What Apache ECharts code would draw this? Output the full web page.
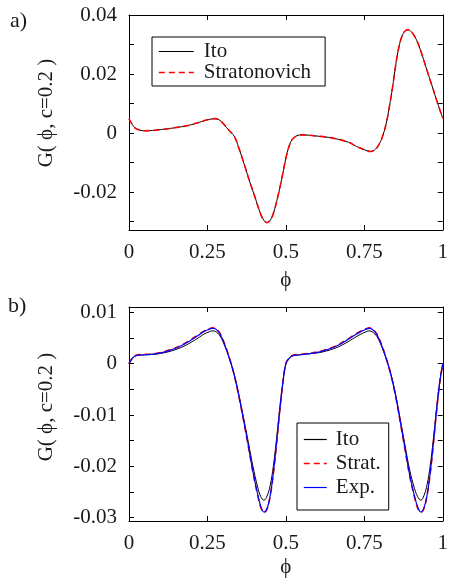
<!DOCTYPE html>
<html>
<head>
<meta charset="utf-8">
<script src="https://cdn.jsdelivr.net/npm/echarts@6/dist/echarts.min.js"></script>
<style>
html,body{margin:0;padding:0;background:#fff;}
#chart{width:451px;height:582px;}
</style>
</head>
<body>
<div id="chart"></div>
<script>
// ---------- Panel a data ----------
const phiA = [0, 0.01, 0.02, 0.035, 0.05, 0.075, 0.1, 0.125, 0.15, 0.175, 0.2, 0.225, 0.25, 0.265, 0.275, 0.29, 0.3, 0.31, 0.32, 0.335, 0.35, 0.37, 0.385, 0.4, 0.42, 0.43, 0.44, 0.45, 0.46, 0.475, 0.49, 0.5, 0.51, 0.52, 0.535, 0.55, 0.6, 0.65, 0.7, 0.725, 0.75, 0.77, 0.785, 0.8, 0.81, 0.82, 0.83, 0.84, 0.85, 0.86, 0.87, 0.88, 0.89, 0.9, 0.91, 0.92, 0.935, 0.95, 0.965, 0.98, 1.0];
const itoA = [0.0048, 0.0030, 0.0017, 0.0010, 0.0008, 0.0009, 0.0012, 0.0015, 0.0019, 0.0023, 0.0029, 0.0037, 0.0045, 0.0048, 0.0049, 0.0043, 0.0033, 0.0020, 0.0008, -0.0010, -0.0050, -0.0115, -0.0165, -0.0212, -0.0275, -0.0295, -0.0303, -0.0295, -0.0272, -0.0212, -0.0138, -0.0085, -0.0045, -0.0022, -0.0009, -0.0006, -0.0010, -0.0017, -0.0031, -0.0045, -0.0056, -0.0062, -0.0055, -0.0032, -0.0005, 0.0034, 0.0090, 0.0155, 0.0230, 0.0290, 0.0328, 0.0346, 0.0350, 0.0343, 0.0328, 0.0307, 0.0262, 0.0212, 0.0163, 0.0113, 0.0050];
const stratA = [0.0048, 0.0030, 0.0017, 0.0010, 0.0008, 0.0009, 0.0012, 0.0015, 0.0019, 0.0023, 0.0029, 0.0037, 0.0045, 0.0048, 0.0049, 0.0043, 0.0033, 0.0020, 0.0008, -0.0010, -0.0050, -0.0115, -0.0165, -0.0212, -0.0275, -0.0295, -0.0303, -0.0295, -0.0272, -0.0212, -0.0138, -0.0085, -0.0045, -0.0022, -0.0009, -0.0006, -0.0010, -0.0017, -0.0031, -0.0045, -0.0056, -0.0062, -0.0055, -0.0032, -0.0005, 0.0034, 0.0090, 0.0155, 0.0230, 0.0290, 0.0328, 0.0346, 0.0350, 0.0343, 0.0328, 0.0307, 0.0262, 0.0212, 0.0163, 0.0113, 0.0050];

// ---------- Panel b data ----------
const phiB = [0, 0.01, 0.02, 0.04, 0.07, 0.1, 0.13, 0.16, 0.19, 0.22, 0.24, 0.255, 0.265, 0.275, 0.29, 0.305, 0.32, 0.335, 0.35, 0.365, 0.38, 0.395, 0.41, 0.42, 0.43, 0.44, 0.45, 0.46, 0.47, 0.48, 0.49, 0.5,
              0.51, 0.52, 0.54, 0.57, 0.6, 0.63, 0.66, 0.69, 0.72, 0.74, 0.755, 0.765, 0.775, 0.79, 0.805, 0.82, 0.835, 0.85, 0.865, 0.88, 0.895, 0.91, 0.92, 0.93, 0.94, 0.95, 0.96, 0.97, 0.98, 0.99, 1.0];
const itoB = [0.0000, 0.0010, 0.0015, 0.0017, 0.0018, 0.0020, 0.0024, 0.0030, 0.0039, 0.0050, 0.0058, 0.0062, 0.0064, 0.0063, 0.0054, 0.0035, 0.0010, -0.0020, -0.0060, -0.0105, -0.0152, -0.0200, -0.0240, -0.0259, -0.0266, -0.0258, -0.0237, -0.0200, -0.0148, -0.0090, -0.0038, 0.0000,
              0.0010, 0.0015, 0.0017, 0.0019, 0.0021, 0.0025, 0.0031, 0.0040, 0.0051, 0.0058, 0.0062, 0.0064, 0.0062, 0.0053, 0.0034, 0.0009, -0.0021, -0.0061, -0.0110, -0.0160, -0.0208, -0.0243, -0.0259, -0.0266, -0.0257, -0.0236, -0.0199, -0.0147, -0.0089, -0.0037, 0.0000];
const stratB = [0.0000, 0.0011, 0.0016, 0.0018, 0.0019, 0.0022, 0.0027, 0.0034, 0.0044, 0.0056, 0.0064, 0.0068, 0.0070, 0.0069, 0.0059, 0.0038, 0.0011, -0.0021, -0.0063, -0.0110, -0.0160, -0.0212, -0.0256, -0.0280, -0.0290, -0.0283, -0.0258, -0.0215, -0.0158, -0.0095, -0.0040, 0.0000,
                0.0011, 0.0016, 0.0018, 0.0020, 0.0023, 0.0028, 0.0035, 0.0045, 0.0057, 0.0064, 0.0068, 0.0070, 0.0068, 0.0058, 0.0037, 0.0010, -0.0022, -0.0064, -0.0115, -0.0168, -0.0220, -0.0260, -0.0281, -0.0290, -0.0282, -0.0257, -0.0214, -0.0157, -0.0094, -0.0039, 0.0000];
const expB = [0.0000, 0.0010, 0.0015, 0.0017, 0.0018, 0.0021, 0.0026, 0.0033, 0.0043, 0.0055, 0.0063, 0.0067, 0.0069, 0.0068, 0.0058, 0.0037, 0.0011, -0.0021, -0.0062, -0.0109, -0.0158, -0.0210, -0.0254, -0.0278, -0.0289, -0.0282, -0.0257, -0.0213, -0.0156, -0.0094, -0.0039, 0.0000,
             0.0010, 0.0015, 0.0017, 0.0019, 0.0022, 0.0027, 0.0034, 0.0044, 0.0056, 0.0063, 0.0067, 0.0069, 0.0067, 0.0057, 0.0036, 0.0010, -0.0022, -0.0063, -0.0114, -0.0166, -0.0218, -0.0258, -0.0279, -0.0289, -0.0281, -0.0256, -0.0213, -0.0156, -0.0093, -0.0038, 0.0000];

// ---------- ticks ----------
const xTicks = [0, 0.25, 0.5, 0.75, 1];
const yLabelsA = [-0.02, 0, 0.02, 0.04];
const yTicksA = [-0.03, -0.02, -0.01, 0, 0.01, 0.02, 0.03, 0.04];
const yLabelsB = [-0.03, -0.02, -0.01, 0, 0.01];
const yTicksB = [-0.03, -0.025, -0.02, -0.015, -0.01, -0.005, 0, 0.005, 0.01];

const FONT = 'Liberation Serif';
const TXT = '#1a1a1a';

function pairs(xs, ys) { return xs.map((x, i) => [x, ys[i]]); }
function fmt(v) { if (Math.abs(v) < 1e-9) return '0'; return String(+v.toFixed(4)); }

const axLine = { show: true, onZero: false, lineStyle: { color: '#000', width: 1 } };
const tick = { show: true, inside: true, length: 5, lineStyle: { color: '#000', width: 1 } };

function xAxes(grid, showLabels, pos) {
  return {
    type: 'value', gridIndex: grid, position: pos, min: 0, max: 1, interval: 0.25,
    axisLine: axLine,
    axisTick: Object.assign({}, tick),
    axisLabel: { show: showLabels, customValues: xTicks, margin: 12, fontFamily: FONT, fontSize: 21, color: TXT, formatter: fmt },
    splitLine: { show: false }
  };
}
function yAxis(grid, pos, mn, mx, labels, ticks, showLabels) {
  return {
    type: 'value', gridIndex: grid, position: pos, min: mn, max: mx,
    axisLine: axLine,
    axisTick: Object.assign({}, tick, { customValues: ticks }),
    axisLabel: { show: showLabels, customValues: labels, margin: 12, fontFamily: FONT, fontSize: 21, color: TXT, formatter: fmt },
    splitLine: { show: false }
  };
}

const hiddenSymbol = { color: 'rgba(0,0,0,0)', borderColor: 'rgba(0,0,0,0)', borderWidth: 0, opacity: 0 };
const solidBlack = { color: '#000', width: 1, type: 'solid' };
const dashRed = { color: '#ff0000', width: 1.6, type: [6, 4] };
const solidBlue = { color: '#0000ff', width: 1.2, type: 'solid' };
const legSolid = { width: 1.2, type: 'solid', color: 'inherit' };
const legDash = { width: 1.6, type: [6, 4], color: 'inherit' };

const chart = echarts.init(document.getElementById('chart'), null, { renderer: 'canvas' });
chart.setOption({
  animation: false,
  backgroundColor: '#fff',
  grid: [
    { left: 129, right: 4, top: 15, height: 215 },
    { left: 129, right: 4, top: 307, height: 214 }
  ],
  xAxis: [
    Object.assign(xAxes(0, true, 'bottom'), { name: 'ϕ', nameLocation: 'middle', nameGap: 40, nameTextStyle: { fontFamily: FONT, fontSize: 21, color: TXT } }),
    xAxes(0, false, 'top'),
    Object.assign(xAxes(1, true, 'bottom'), { name: 'ϕ', nameLocation: 'middle', nameGap: 36, nameTextStyle: { fontFamily: FONT, fontSize: 21, color: TXT } }),
    xAxes(1, false, 'top')
  ],
  yAxis: [
    yAxis(0, 'left', -0.0328, 0.04, yLabelsA, yTicksA, true),
    yAxis(0, 'right', -0.0328, 0.04, yLabelsA, yTicksA, false),
    yAxis(1, 'left', -0.03065, 0.01105, yLabelsB, yTicksB, true),
    yAxis(1, 'right', -0.03065, 0.01105, yLabelsB, yTicksB, false)
  ],
  legend: [
    {
      data: [
        { name: 'Ito', itemStyle: hiddenSymbol, lineStyle: legSolid },
        { name: 'Stratonovich', itemStyle: hiddenSymbol, lineStyle: legDash }
      ],
      orient: 'vertical', left: 152, top: 37,
      itemWidth: 35, itemHeight: 10, itemGap: 0,
      itemStyle: hiddenSymbol,
      padding: [4, 14, 3, 6], borderColor: '#000', borderWidth: 1, backgroundColor: '#fff',
      textStyle: { fontFamily: FONT, fontSize: 21, color: TXT, lineHeight: 18, padding: [0, 0, 0, 5] },
      selectedMode: false
    },
    {
      data: [
        { name: 'Ito', itemStyle: hiddenSymbol, lineStyle: legSolid },
        { name: 'Strat.', itemStyle: hiddenSymbol, lineStyle: legDash },
        { name: 'Exp.', itemStyle: hiddenSymbol, lineStyle: legSolid }
      ],
      orient: 'vertical', left: 297, top: 423,
      itemWidth: 23, itemHeight: 10, itemGap: 3,
      itemStyle: hiddenSymbol,
      padding: [6, 8, 12, 6], borderColor: '#000', borderWidth: 1, backgroundColor: '#fff',
      textStyle: { fontFamily: FONT, fontSize: 21, color: TXT, lineHeight: 21, padding: [0, 0, 0, 4] },
      selectedMode: false
    }
  ],
  graphic: [
    { type: 'text', left: 10, top: 10, style: { text: 'a)', font: '22px "Liberation Serif"', fill: TXT } },
    { type: 'text', left: 8, top: 295, style: { text: 'b)', font: '22px "Liberation Serif"', fill: TXT } },
    { type: 'text', x: 46, y: 113, rotation: Math.PI / 2, style: { text: 'G( ϕ, c=0.2 )', font: '21px "Liberation Serif"', fill: TXT, align: 'center', verticalAlign: 'middle' } },
    { type: 'text', x: 46, y: 407, rotation: Math.PI / 2, style: { text: 'G( ϕ, c=0.2 )', font: '21px "Liberation Serif"', fill: TXT, align: 'center', verticalAlign: 'middle' } }
  ],
  series: [
    { name: 'Ito', type: 'line', xAxisIndex: 0, yAxisIndex: 0, data: pairs(phiA, itoA), smooth: 0.4, symbol: 'none', lineStyle: solidBlack, itemStyle: { color: '#000' } },
    { name: 'Stratonovich', type: 'line', xAxisIndex: 0, yAxisIndex: 0, data: pairs(phiA, stratA), smooth: 0.4, symbol: 'none', lineStyle: dashRed, itemStyle: { color: '#ff0000' } },
    { name: 'Ito', type: 'line', xAxisIndex: 2, yAxisIndex: 2, data: pairs(phiB, itoB), smooth: 0.4, symbol: 'none', lineStyle: solidBlack, itemStyle: { color: '#000' } },
    { name: 'Strat.', type: 'line', xAxisIndex: 2, yAxisIndex: 2, data: pairs(phiB, stratB), smooth: 0.4, symbol: 'none', lineStyle: dashRed, itemStyle: { color: '#ff0000' } },
    { name: 'Exp.', type: 'line', xAxisIndex: 2, yAxisIndex: 2, data: pairs(phiB, expB), smooth: 0.4, symbol: 'none', lineStyle: solidBlue, itemStyle: { color: '#0000ff' } }
  ]
});
</script>
</body>
</html>
